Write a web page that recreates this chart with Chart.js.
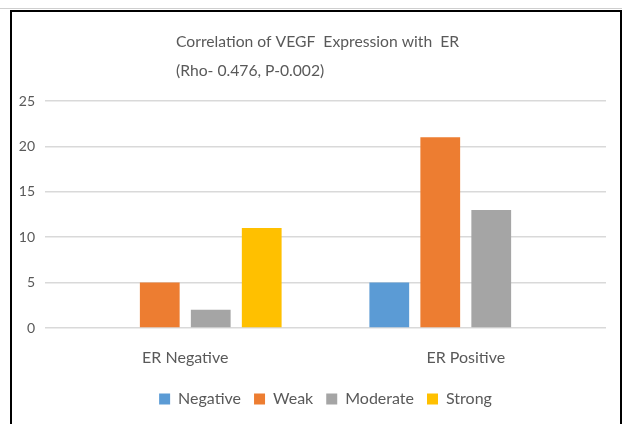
<!DOCTYPE html>
<html>
<head>
<meta charset="utf-8">
<script src="https://cdn.jsdelivr.net/npm/chart.js@4.4.1/dist/chart.umd.min.js"></script>
<style>
  html, body { margin: 0; padding: 0; background: #fff; }
  #wrap { width: 622px; height: 424px; position: relative; }
</style>
</head>
<body>
<div id="wrap"><canvas id="c" width="622" height="424"></canvas></div>
<script>
const titleLines = ["Correlation of VEGF  Expression with  ER", "(Rho- 0.476, P-0.002)"];
const categories = ["ER Negative", "ER Positive"];
const seriesNames = ["Negative", "Weak", "Moderate", "Strong"];
const negativeValues = [0, 5];
const weakValues = [5, 21];
const moderateValues = [2, 13];
const strongValues = [11, 0];
const yTicks = [0, 5, 10, 15, 20, 25];

const colors = ["#5B9BD5", "#ED7D31", "#A5A5A5", "#FFC000"];
const allValues = [negativeValues, weakValues, moderateValues, strongValues];
const FONT = "Lato, 'Open Sans', sans-serif";
const TXT = "#595959";

const framePlugin = {
  id: 'frame',
  afterDraw(chart) {
    const ctx = chart.ctx;
    ctx.save();
    ctx.strokeStyle = "#cfcfcf";
    ctx.lineWidth = 1;
    ctx.beginPath();
    ctx.moveTo(0, 8.5);
    ctx.lineTo(622, 8.5);
    ctx.stroke();
    ctx.strokeStyle = "#000";
    ctx.lineWidth = 2;
    ctx.beginPath();
    ctx.moveTo(11, 430);
    ctx.lineTo(11, 11);
    ctx.lineTo(621, 11);
    ctx.lineTo(621, 430);
    ctx.stroke();
    ctx.fillStyle = TXT;
    ctx.font = "15.7px " + FONT;
    ctx.textAlign = "left";
    ctx.textBaseline = "alphabetic";
    ctx.fillText(titleLines[0], 176, 47);
    ctx.fillText(titleLines[1], 176, 76);
    ctx.restore();
  }
};

new Chart(document.getElementById('c'), {
  type: 'bar',
  data: {
    labels: categories,
    datasets: seriesNames.map((n, i) => ({
      label: n,
      data: allValues[i],
      backgroundColor: colors[i],
      categoryPercentage: 0.727,
      barPercentage: 0.78
    }))
  },
  options: {
    responsive: false,
    animation: false,
    layout: { padding: { left: 12, right: 16, top: 101, bottom: 7 } },
    plugins: {
      title: { display: false },
      tooltip: { enabled: false },
      legend: {
        position: 'bottom',
        fullSize: false,
        labels: {
          color: TXT,
          font: { family: FONT, size: 16 },
          boxWidth: 11,
          boxHeight: 11,
          padding: 13
        }
      }
    },
    scales: {
      x: {
        grid: { display: false, drawTicks: false },
        border: { display: false },
        ticks: { color: TXT, font: { family: FONT, size: 16 }, padding: 20 },
        afterFit(s) { s.height = 50; }
      },
      y: {
        min: 0, max: 25,
        afterBuildTicks(s) { s.ticks = yTicks.map(v => ({ value: v })); },
        grid: { color: "#d9d9d9", lineWidth: 1.5, drawTicks: false },
        border: { display: false },
        ticks: { color: TXT, font: { family: FONT, size: 14 }, padding: 10 },
        afterFit(s) { s.width = 33; }
      }
    }
  },
  plugins: [framePlugin]
});
</script>
</body>
</html>
